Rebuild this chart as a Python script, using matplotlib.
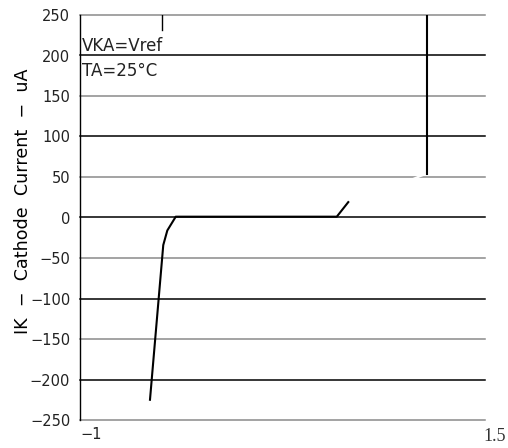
import matplotlib.pyplot as plt

# characteristic curve
curve_x = [-0.568, -0.486, -0.461, -0.409, 0.585, 0.656]
curve_y = [-225, -34, -16, 1, 1, 19]

# vertical trace on the right and the short mark at the top
vert_x = [1.142, 1.142]
vert_y = [54, 250]
mark_x = [-0.496, -0.496]
mark_y = [232, 250]
gap_x = [1.062, 1.111]
gap_y = [48, 52]

yticks = [250, 200, 150, 100, 50, 0, -50, -100, -150, -200, -250]
ytick_labels = ['250', '200', '150', '100', '50', '0', '−50', '−100', '−150', '−200', '−250']
xmin, xmax = -1, 1.5
notes = ['VKA=Vref', 'TA=25°C']

plt.rcParams['font.family'] = 'DejaVu Sans'

fig = plt.figure(figsize=(5.08, 4.48), dpi=100)
ax = fig.add_axes([80 / 508, 28 / 448, 405 / 508, 405 / 448])
ax.set_xlim(xmin, xmax)
ax.set_ylim(-250, 250)

for i, v in enumerate(yticks):
    col = '#8a8a8a' if i % 2 == 0 else 'black'
    ax.axhline(v, color=col, lw=1.1, clip_on=False, zorder=1)

for s in ['top', 'right', 'bottom']:
    ax.spines[s].set_visible(False)
ax.spines['left'].set_linewidth(1.0)
ax.spines['left'].set_color('black')

ax.set_yticks(yticks)
ax.set_yticklabels(ytick_labels, fontsize=10.5, color='#222222')
ax.tick_params(axis='y', length=0, pad=7)
ax.set_xticks([])

ax.text(xmin, -0.035, '−1', transform=ax.get_xaxis_transform(),
        ha='left', va='center', fontsize=10.5, color='#222222')
ax.annotate('1.5', xy=(xmax, 0), xycoords=('data', 'axes fraction'),
            xytext=(7, -12), textcoords='offset points', ha='center', va='center',
            fontsize=13, family='Liberation Serif', color='#333333')

ax.plot(curve_x, curve_y, color='black', lw=1.5, zorder=3)
ax.plot(vert_x, vert_y, color='black', lw=1.5, zorder=3)
ax.plot(mark_x, mark_y, color='black', lw=1.0, zorder=3)
ax.plot(gap_x, gap_y, color='white', lw=1.6, zorder=2)

ax.text(0.004, 0.924, notes[0], transform=ax.transAxes, ha='left', va='center',
        fontsize=12, color='#222222')
ax.text(0.004, 0.862, notes[1], transform=ax.transAxes, ha='left', va='center',
        fontsize=12, color='#222222')

fig.text(23 / 508, 1 - 201 / 448, 'IK  −  Cathode  Current  −  uA', rotation=90,
         ha='center', va='center', fontsize=12.6, color='black')

plt.savefig('out.png', dpi=100)
